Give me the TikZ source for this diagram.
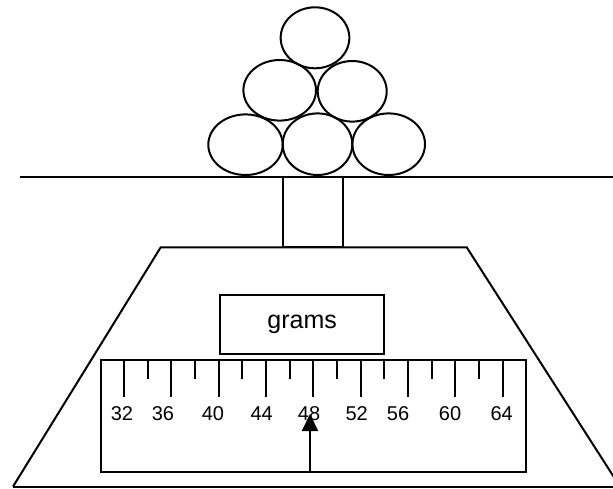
\documentclass[tikz,border=0pt]{standalone}
\usepackage{fontspec}
\setmainfont{Liberation Sans}
\usetikzlibrary{arrows.meta,shapes.geometric}
\begin{document}
\begin{tikzpicture}[x=1pt,y=-1pt,line width=2pt,
  ball/.style={draw,ellipse,inner sep=0pt,line width=2pt},
  box/.style={draw,rectangle,inner sep=0pt,line width=2pt},
  tick/.style={line width=2.2pt},
  lbl/.style={inner sep=0pt,font=\fontsize{20}{24}\selectfont}]
\useasboundingbox (0,0) rectangle (613,488);
\begin{scope}
\clip (0,0) rectangle (613,488);
% balls
\node[ball,minimum width=68.7pt,minimum height=61pt] (b1) at (315,37.8) {};
\node[ball,minimum width=72.6pt,minimum height=60.6pt] (b2) at (279.7,90.3) {};
\node[ball,minimum width=69pt,minimum height=60.6pt] (b3) at (352.2,91.3) {};
\node[ball,minimum width=74.4pt,minimum height=60.6pt] (b4) at (245.5,144.7) {};
\node[ball,minimum width=69.6pt,minimum height=61.6pt] (b5) at (317.5,144.2) {};
\node[ball,minimum width=72.6pt,minimum height=61.6pt] (b6) at (388.7,144.2) {};
% table top
\coordinate (tl) at (20,176.7);
\coordinate (tr) at (613,176.7);
\draw (tl) -- (tr);
% stem
\coordinate (s1) at (282.7,176.7);
\coordinate (s2) at (342.7,247.3);
\draw (s1) rectangle (s2);
% base trapezoid
\coordinate (p1) at (13,486.6);
\coordinate (p2) at (160.7,247.3);
\coordinate (p3) at (466.7,247.3);
\coordinate (p4) at (620,486.6);
\draw (p1) -- (p2) -- (p3) -- (p4);
\draw (p1) -- (p4);
% grams box
\node[box,minimum width=164.3pt,minimum height=59.3pt,font=\fontsize{25}{30}\selectfont] (grams) at (302.2,324.7) {grams};
% ruler
\node[box,minimum width=425pt,minimum height=112pt] (ruler) at (313.5,416) {};
\foreach \i in {0,...,16}{
  \pgfmathsetmacro{\xx}{124+23.67*\i}
  \ifodd\i
    \draw[tick] (\xx,360) -- (\xx,379);
  \else
    \draw[tick] (\xx,360) -- (\xx,397);
  \fi
}
\foreach \v/\xx in {32/122,36/163,40/213,44/261.7,48/309,52/356.7,56/398,60/450,64/501.7}{
  \node[lbl] (l\v) at (\xx,413.3) {\v};
}
% pointer
\coordinate (pb) at (310,472);
\coordinate (pt) at (310,414);
\draw[line width=2.2pt,-{Triangle[width=16pt,length=17pt]}] (pb) -- (pt);
\end{scope}
\end{tikzpicture}
\end{document}
